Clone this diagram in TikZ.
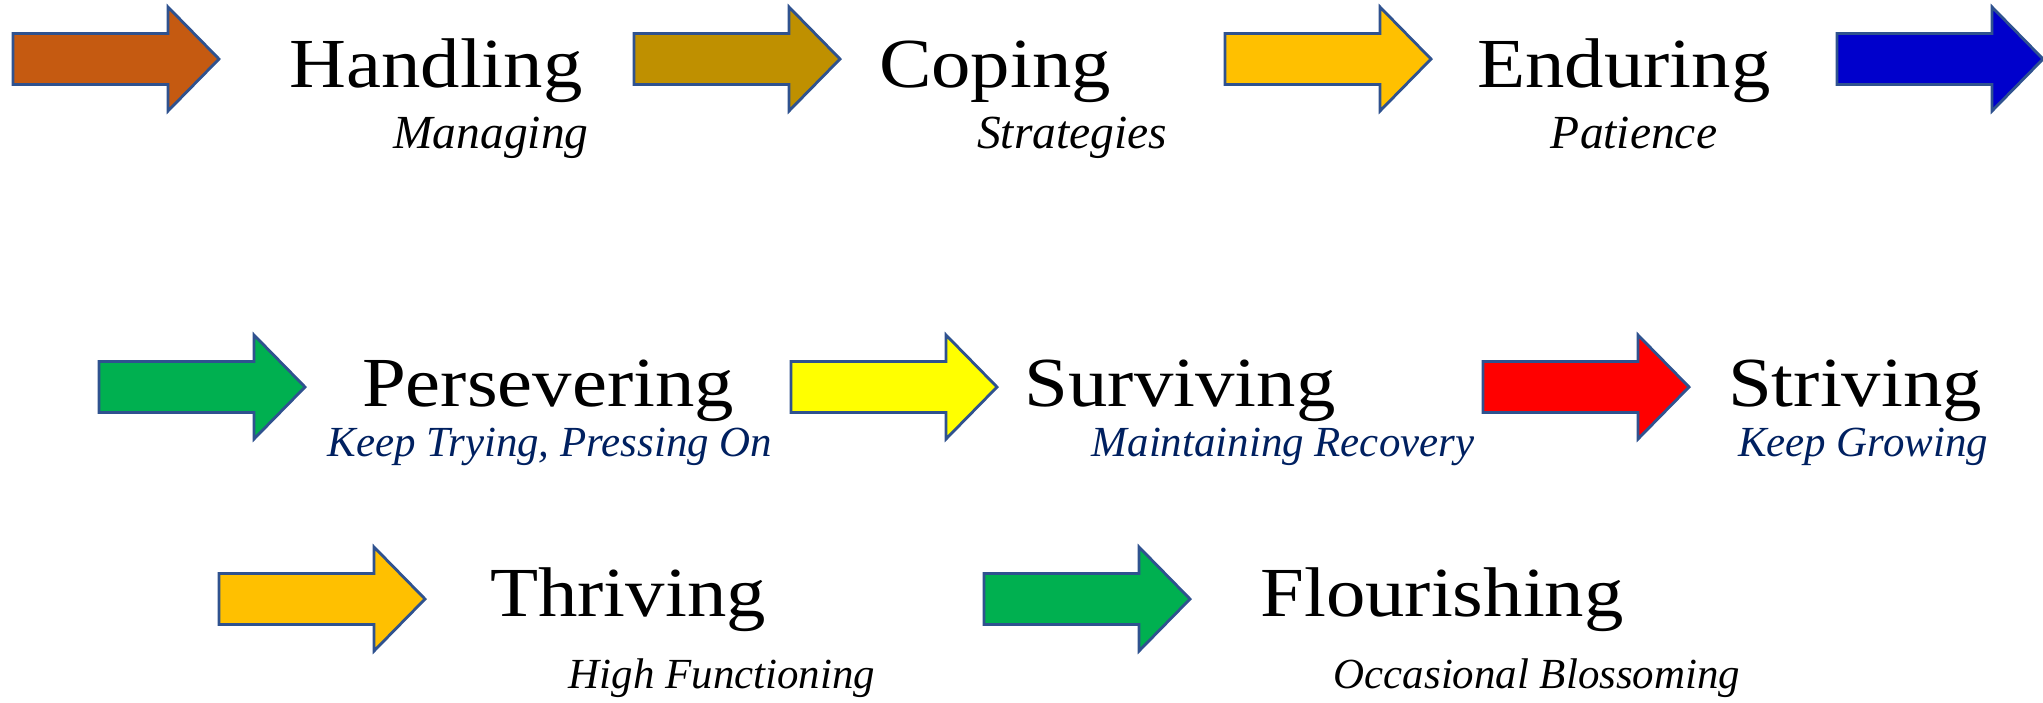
\documentclass[tikz,border=0pt]{standalone}
\usepackage{fontspec}
\setmainfont{Liberation Serif}
\newfontfamily\headfont[FakeStretch=1.12]{Liberation Serif}
\usetikzlibrary{positioning}

\definecolor{rust}{HTML}{C55A11}
\definecolor{mustard}{HTML}{BF9000}
\definecolor{amber}{HTML}{FFC000}
\definecolor{deepblue}{HTML}{0000CC}
\definecolor{leaf}{HTML}{00B050}
\definecolor{lemon}{HTML}{FFFF00}
\definecolor{scarlet}{HTML}{FF0000}
\definecolor{navy}{HTML}{002060}
\definecolor{rim}{HTML}{2F528F}

\begin{document}
\begin{tikzpicture}[x=0.01cm, y=-0.01cm,
    word/.style={anchor=base, inner sep=0pt, font=\headfont\fontsize{20}{24}\selectfont},
    hint/.style={anchor=base, inner sep=0pt, font=\itshape\fontsize{#1}{16}\selectfont},
    hint/.default=13.5,
    pics/fatarrow/.style={code={
        \draw[rim, line width=0.8pt, fill=#1] (0,-25.5) -- (155,-25.5) -- (155,-52)
            -- (206,0) -- (155,52) -- (155,25.5) -- (0,25.5) -- cycle;}}
]
\useasboundingbox (0,0) rectangle (2043,702);

% Row 1
\pic at (13,59) {fatarrow=rust};
\node[word] (handling) at (436,87) {Handling};
\node[hint] (managing) at (491,148) {Managing};

\pic at (634,59) {fatarrow=mustard};
\node[word] (coping) at (995,87) {Coping};
\node[hint] (strategies) at (1072,148) {Strategies};

\pic at (1225,59) {fatarrow=amber};
\node[word] (enduring) at (1624,87) {Enduring};
\node[hint] (patience) at (1634,148) {Patience};

\pic at (1837,59) {fatarrow=deepblue};

% Row 2
\pic at (99,387) {fatarrow=leaf};
\node[word] (persevering) at (548,406) {Persevering};
\node[hint=12.2, navy] (trying) at (550,456) {Keep Trying, Pressing On};

\pic at (791,387) {fatarrow=lemon};
\node[word] (surviving) at (1180,406) {Surviving};
\node[hint=12.2, navy] (recovery) at (1283,456) {Maintaining Recovery};

\pic at (1483,387) {fatarrow=scarlet};
\node[word] (striving) at (1855,406) {Striving};
\node[hint=12.2, navy] (growing) at (1863,456) {Keep Growing};

% Row 3
\pic at (219,599) {fatarrow=amber};
\node[word] (thriving) at (628,616) {Thriving};
\node[hint=12.2] (functioning) at (722,688) {High Functioning};

\pic at (984,599) {fatarrow=leaf};
\node[word] (flourishing) at (1442,616) {Flourishing};
\node[hint=12.2] (blossoming) at (1537,688) {Occasional Blossoming};

\end{tikzpicture}
\end{document}
